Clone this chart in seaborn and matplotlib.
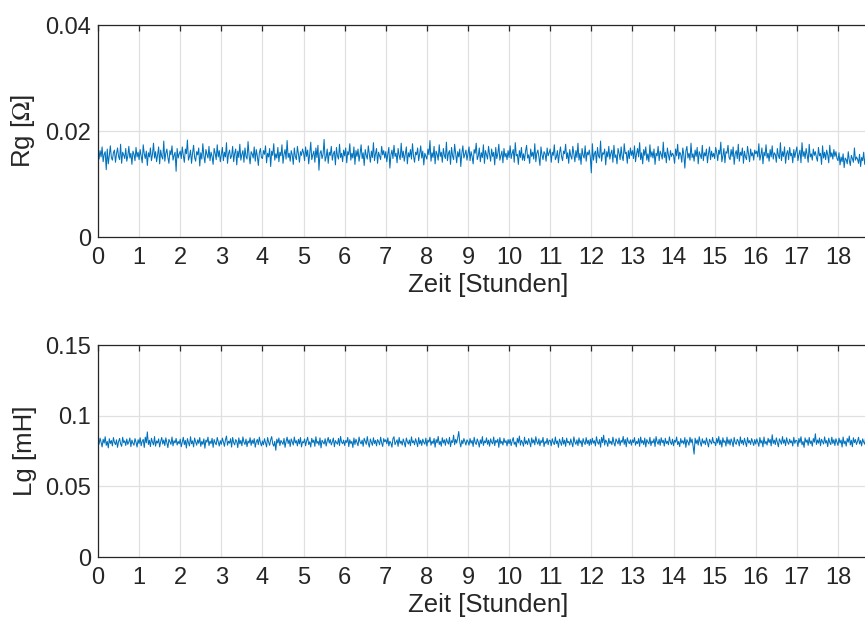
import numpy as np
import pandas as pd
import matplotlib
matplotlib.use("Agg")
import matplotlib.pyplot as plt
import seaborn as sns

# ============================================================
# Data (one row = one hour, 40 samples/h)
# ============================================================

dt_hours = 0.025

# Rg in units of 1e-4 Ohm
rg_e4 = [
    158, 147, 163, 151, 170, 142, 156, 161, 127, 166, 138, 154, 172, 150, 145, 159, 164, 141, 157, 168, 152, 146, 175, 139, 160, 155, 148, 167, 143, 153, 171, 149, 158, 137, 162, 156, 144, 169, 151, 160,
    146, 165, 153, 140, 174, 157, 148, 162, 135, 159, 151, 168, 144, 156, 177, 149, 161, 142, 155, 170, 138, 164, 152, 147, 181, 143, 158, 166, 150, 139, 163, 155, 172, 145, 154, 160, 124, 167, 149, 157,
    162, 148, 170, 154, 141, 166, 157, 183, 145, 152, 164, 139, 158, 173, 150, 143, 161, 155, 168, 134, 159, 147, 176, 153, 140, 165, 156, 149, 171, 144, 160, 152, 137, 167, 158, 146, 174, 151, 163, 142,
    155, 169, 144, 160, 151, 178, 139, 157, 164, 148, 153, 171, 142, 158, 166, 136, 162, 150, 175, 145, 156, 163, 141, 168, 152, 147, 180, 154, 138, 161, 157, 149, 170, 143, 165, 153, 135, 159, 167, 150,
    148, 163, 156, 172, 140, 158, 151, 167, 133, 162, 154, 176, 145, 157, 149, 169, 142, 160, 153, 174, 139, 156, 165, 147, 182, 150, 158, 143, 163, 155, 137, 168, 152, 146, 171, 157, 141, 161, 154, 166,
    159, 144, 170, 152, 164, 138, 157, 179, 146, 155, 162, 141, 168, 150, 173, 126, 158, 163, 148, 156, 184, 143, 151, 166, 139, 160, 154, 171, 145, 157, 162, 136, 169, 153, 147, 175, 150, 158, 142, 164,
    153, 168, 140, 161, 155, 176, 145, 158, 149, 170, 137, 163, 152, 166, 143, 157, 174, 148, 159, 135, 165, 154, 147, 172, 156, 141, 162, 150, 178, 144, 157, 167, 139, 160, 153, 146, 171, 155, 163, 149,
    161, 142, 157, 169, 130, 155, 164, 148, 173, 152, 158, 140, 167, 154, 146, 177, 150, 162, 143, 156, 170, 138, 159, 151, 165, 147, 176, 153, 141, 160, 155, 168, 144, 157, 172, 149, 162, 136, 158, 152,
    147, 166, 155, 182, 143, 159, 150, 171, 138, 162, 156, 145, 174, 152, 160, 141, 167, 154, 148, 179, 144, 158, 163, 137, 169, 153, 146, 175, 157, 140, 161, 151, 166, 133, 158, 172, 149, 156, 164, 145,
    157, 170, 144, 161, 152, 138, 165, 158, 177, 146, 153, 168, 142, 159, 150, 174, 139, 163, 155, 147, 171, 156, 143, 166, 152, 160, 136, 169, 148, 157, 175, 145, 154, 162, 140, 167, 151, 158, 146, 163,
    150, 172, 148, 158, 165, 141, 178, 153, 156, 137, 163, 150, 169, 145, 157, 144, 162, 173, 149, 155, 139, 166, 152, 160, 147, 176, 142, 158, 164, 151, 135, 170, 155, 146, 161, 157, 143, 168, 153, 159,
    166, 141, 160, 154, 174, 146, 151, 163, 140, 158, 170, 152, 144, 162, 157, 175, 148, 159, 139, 165, 153, 147, 171, 156, 142, 163, 150, 177, 145, 158, 137, 167, 154, 149, 172, 143, 160, 155, 164, 151,
    121, 176, 145, 157, 162, 140, 169, 153, 149, 181, 143, 159, 156, 166, 136, 161, 151, 171, 147, 158, 164, 141, 173, 150, 155, 138, 167, 158, 146, 170, 152, 144, 176, 157, 160, 139, 163, 148, 168, 154,
    163, 148, 172, 142, 157, 167, 151, 178, 146, 159, 138, 165, 154, 170, 145, 157, 142, 174, 151, 161, 149, 166, 137, 158, 153, 171, 144, 162, 156, 147, 179, 150, 160, 140, 168, 155, 145, 163, 152, 158,
    154, 139, 166, 153, 175, 147, 160, 156, 141, 168, 155, 130, 162, 171, 149, 158, 145, 177, 150, 157, 143, 164, 152, 169, 138, 161, 155, 148, 173, 144, 159, 153, 166, 140, 157, 170, 146, 162, 151, 158,
    148, 169, 159, 144, 164, 156, 179, 142, 153, 167, 140, 161, 158, 173, 150, 146, 165, 152, 170, 137, 157, 163, 148, 175, 143, 160, 154, 168, 139, 162, 151, 146, 171, 156, 142, 166, 153, 159, 145, 164,
    157, 162, 151, 176, 145, 155, 168, 138, 160, 153, 174, 149, 158, 143, 165, 151, 172, 147, 159, 156, 141, 167, 154, 148, 178, 144, 161, 152, 170, 139, 157, 163, 146, 169, 153, 158, 140, 165, 150, 161,
    170, 144, 156, 164, 140, 178, 152, 161, 148, 167, 155, 141, 175, 151, 157, 145, 166, 154, 161, 150, 143, 169, 153, 158, 137, 172, 149, 160, 146, 164, 155, 140, 173, 151, 159, 147, 165, 152, 161, 148,
    144, 159, 136, 151, 142, 157, 131, 149, 146, 138, 161, 145, 135, 154, 148, 141, 168, 145, 151, 147, 139, 156, 133, 150, 144, 160, 137, 152, 128, 147, 155, 141, 164, 143, 150, 138, 157, 146, 152, 149,
]

# Lg in units of 1e-4 mH
lg_e4 = [
    826, 798, 841, 812, 779, 833, 806, 851, 790, 818, 772, 837, 803, 824, 786, 845, 811, 795, 829, 776, 816, 839, 801, 783, 847, 809, 822, 789, 835, 797, 814, 842, 781, 827, 805, 791, 838, 812, 778, 830,
    803, 844, 787, 819, 832, 775, 848, 808, 885, 796, 826, 781, 840, 813, 793, 852, 784, 821, 806, 836, 779, 817, 846, 799, 828, 788, 843, 810, 774, 832, 815, 797, 849, 786, 823, 807, 839, 792, 818, 801,
    834, 780, 812, 847, 795, 825, 771, 838, 809, 786, 851, 801, 822, 779, 842, 814, 791, 829, 804, 845, 783, 818, 797, 836, 770, 827, 812, 848, 789, 820, 802, 840, 776, 831, 808, 794, 846, 817, 785, 823,
    797, 841, 815, 783, 828, 856, 791, 819, 805, 837, 778, 846, 809, 793, 831, 818, 774, 843, 800, 825, 787, 850, 812, 796, 834, 781, 821, 806, 844, 790, 827, 803, 838, 777, 815, 832, 795, 848, 810, 786,
    821, 794, 837, 808, 779, 845, 813, 790, 829, 852, 801, 784, 818, 755, 834, 806, 842, 788, 825, 811, 797, 839, 776, 817, 848, 803, 829, 782, 836, 814, 792, 849, 807, 823, 786, 833, 800, 845, 779, 816,
    808, 835, 787, 822, 847, 796, 815, 778, 840, 810, 828, 783, 851, 804, 819, 791, 843, 772, 826, 812, 799, 837, 785, 820, 846, 806, 831, 793, 815, 842, 780, 824, 809, 798, 839, 788, 853, 813, 801, 827,
    789, 824, 810, 846, 781, 830, 803, 818, 775, 842, 796, 833, 809, 787, 849, 814, 800, 827, 783, 840, 819, 797, 852, 806, 778, 835, 812, 790, 844, 803, 825, 786, 831, 817, 794, 848, 808, 782, 838, 815,
    830, 801, 843, 786, 819, 807, 777, 838, 851, 795, 812, 829, 783, 846, 804, 820, 792, 835, 810, 779, 842, 816, 799, 828, 787, 850, 808, 822, 794, 837, 813, 781, 845, 800, 826, 789, 834, 811, 798, 841,
    785, 827, 812, 848, 791, 820, 803, 839, 777, 831, 808, 853, 796, 818, 784, 844, 806, 829, 790, 837, 815, 799, 847, 781, 823, 810, 862, 794, 832, 806, 843, 888, 812, 779, 826, 801, 838, 817, 792, 829,
    816, 791, 838, 805, 824, 782, 847, 810, 796, 835, 814, 778, 829, 803, 852, 789, 821, 808, 843, 797, 827, 784, 836, 812, 800, 849, 788, 825, 811, 834, 776, 845, 803, 819, 792, 840, 809, 823, 786, 831,
    802, 833, 788, 820, 845, 797, 814, 779, 840, 807, 856, 791, 826, 810, 784, 848, 801, 822, 795, 838, 812, 780, 843, 806, 829, 793, 851, 815, 798, 836, 787, 824, 809, 846, 782, 817, 804, 839, 794, 827,
    824, 787, 837, 810, 795, 849, 803, 821, 776, 834, 812, 790, 846, 799, 827, 783, 841, 808, 818, 792, 835, 806, 780, 850, 814, 797, 829, 788, 843, 805, 823, 781, 838, 811, 796, 845, 802, 826, 789, 833,
    796, 840, 805, 823, 786, 851, 812, 798, 831, 777, 846, 809, 862, 792, 828, 814, 783, 839, 803, 820, 794, 848, 807, 785, 836, 818, 800, 842, 789, 825, 811, 853, 797, 832, 780, 844, 815, 802, 829, 791,
    829, 810, 845, 791, 818, 802, 838, 783, 849, 806, 824, 795, 842, 779, 831, 813, 800, 847, 788, 821, 807, 836, 782, 852, 815, 798, 833, 790, 844, 809, 826, 785, 840, 803, 819, 794, 850, 811, 796, 834,
    787, 826, 812, 849, 795, 817, 781, 838, 806, 823, 799, 845, 776, 830, 814, 791, 847, 808, 835, 786, 728, 841, 803, 829, 792, 851, 812, 784, 837, 805, 822, 795, 843, 810, 779, 833, 817, 800, 846, 808,
    813, 788, 839, 806, 852, 794, 827, 778, 844, 810, 823, 785, 848, 801, 830, 792, 836, 815, 781, 846, 808, 797, 833, 819, 786, 850, 804, 826, 793, 840, 811, 782, 845, 807, 824, 796, 838, 815, 789, 831,
    799, 836, 812, 783, 845, 806, 824, 779, 849, 801, 818, 792, 840, 810, 832, 786, 865, 803, 827, 795, 843, 811, 780, 836, 819, 798, 852, 805, 829, 788, 844, 813, 797, 834, 808, 822, 785, 847, 804, 826,
    823, 782, 839, 808, 851, 794, 817, 776, 843, 811, 829, 790, 846, 803, 821, 784, 838, 812, 872, 796, 828, 805, 842, 787, 833, 815, 799, 850, 806, 824, 781, 841, 810, 795, 848, 803, 830, 789, 837, 812,
    790, 841, 806, 827, 778, 849, 801, 820, 785, 838, 812, 856, 793, 826, 780, 844, 809, 831, 796, 818, 847, 800, 824, 786, 836, 813, 798, 853, 805, 829, 783, 840, 816, 794, 845, 808, 823, 787, 834, 810,
]

x_ticks = list(range(0, 19))
rg_ticks = [0, 0.02, 0.04]
lg_ticks = [0, 0.05, 0.1, 0.15]
rg_ticklabels = ["0", "0.02", "0.04"]
lg_ticklabels = ["0", "0.05", "0.1", "0.15"]

# ============================================================
# Build DataFrame
# ============================================================

t = np.arange(len(rg_e4)) * dt_hours
df = pd.DataFrame({
    "Zeit": t,
    "Rg": np.array(rg_e4) * 1e-4,
    "Lg": np.array(lg_e4) * 1e-4,
})

# ============================================================
# Style
# ============================================================

sns.set_theme(style="white")
plt.rcParams["font.family"] = ["Liberation Sans", "DejaVu Sans"]
plt.rcParams["mathtext.fontset"] = "stix"

text_col = "#262626"
line_col = "#0072BD"
grid_col = "#e0e0e0"

fig = plt.figure(figsize=(8.65, 6.28), dpi=100)

W, H = 865, 628
left_px = 98
px_per_h = 41.11
right_px = left_px + t[-1] * px_per_h
ax_h_px = 212

ax1 = fig.add_axes([left_px / W, (H - 237) / H, (right_px - left_px) / W, ax_h_px / H])
ax2 = fig.add_axes([left_px / W, (H - 557) / H, (right_px - left_px) / W, ax_h_px / H])

panels = [
    (ax1, "Rg", r"Rg [$\Omega$]", (0, 0.04), rg_ticks, rg_ticklabels),
    (ax2, "Lg", "Lg [mH]", (0, 0.15), lg_ticks, lg_ticklabels),
]

for ax, col, ylab, ylim, yt, ytl in panels:
    sns.lineplot(data=df, x="Zeit", y=col, ax=ax, color=line_col, linewidth=0.75, errorbar=None)
    ax.set_xlim(0, t[-1])
    ax.set_ylim(*ylim)
    ax.set_xticks(x_ticks)
    ax.set_xticklabels([str(v) for v in x_ticks])
    ax.set_yticks(yt)
    ax.set_yticklabels(ytl)
    ax.grid(True, color=grid_col, linewidth=0.9)
    ax.set_axisbelow(True)
    for s in ax.spines.values():
        s.set_visible(True)
        s.set_color(text_col)
        s.set_linewidth(0.9)
    ax.tick_params(axis="both", direction="in", length=4.5, width=0.9, color=text_col,
                   labelcolor=text_col, labelsize=17, top=True, right=True)
    ax.tick_params(axis="x", pad=7)
    ax.tick_params(axis="y", pad=5)
    ax.set_xlabel("Zeit [Stunden]", fontsize=18.5, color=text_col, labelpad=3)
    ax.set_ylabel(ylab, fontsize=18.5, color=text_col, labelpad=6)

fig.savefig("out.png", dpi=100)
